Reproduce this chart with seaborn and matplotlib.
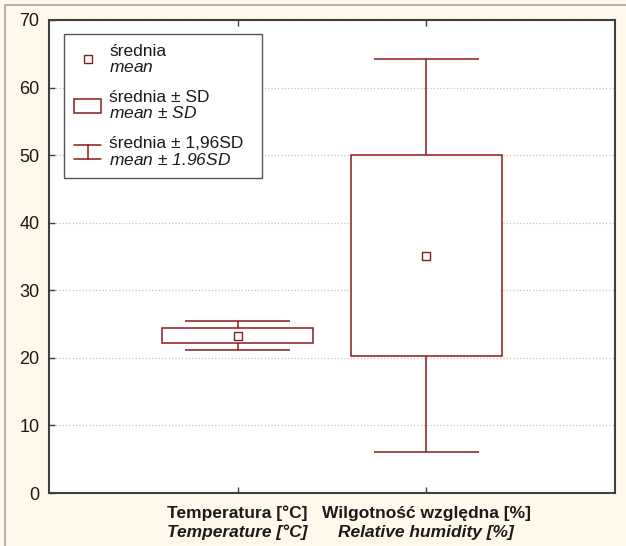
import numpy as np
import pandas as pd
import matplotlib
matplotlib.use("Agg")
import matplotlib.pyplot as plt
import seaborn as sns
from matplotlib.patches import Rectangle
from matplotlib.lines import Line2D
from matplotlib.legend_handler import HandlerBase
from matplotlib.transforms import blended_transform_factory

# Dane
zmienne_pl = ["Temperatura [°C]", "Wilgotność względna [%]"]
zmienne_en = ["Temperature [°C]", "Relative humidity [%]"]
srednie = [23.3, 35.1]
odch_std = [1.1, 14.85]
y_ticks = [0, 10, 20, 30, 40, 50, 60, 70]

KOLOR = "#8b1a1a"
TLO = "#fff8eb"
OS = "#404040"

sns.set_theme(style="ticks")
plt.rcParams["font.family"] = ["Liberation Sans", "DejaVu Sans"]
# w mathtext tylko kursywa (cyfry tez maja byc pochyle)
plt.rcParams["mathtext.fontset"] = "custom"
plt.rcParams["mathtext.rm"] = "Liberation Sans:italic"
plt.rcParams["mathtext.it"] = "Liberation Sans:italic"

df = pd.DataFrame({"x": np.arange(1, len(srednie) + 1), "srednia": srednie, "sd": odch_std})
df["lo196"] = df["srednia"] - 1.96 * df["sd"]
df["hi196"] = df["srednia"] + 1.96 * df["sd"]

fig = plt.figure(figsize=(6.26, 5.46), dpi=100, facecolor=TLO)
ax = fig.add_axes([49 / 626, 1 - 493 / 546, 566 / 626, 473 / 546])
ax.set_facecolor("white")

# ramka rysunku (lewa i gorna krawedz)
fig.add_artist(Rectangle((5 / 626, -1), 2, 1 - 5 / 546 + 1, transform=fig.transFigure,
                         facecolor="none", edgecolor="#a8a8a8", linewidth=1.2))

# wąsy: srednia +- 1.96 SD
ax.vlines(df["x"], df["lo196"], df["hi196"], color=KOLOR, linewidth=1.1, zorder=2)
ax.hlines(df["lo196"], df["x"] - 0.28, df["x"] + 0.28, color=KOLOR, linewidth=1.1, zorder=2)
ax.hlines(df["hi196"], df["x"] - 0.28, df["x"] + 0.28, color=KOLOR, linewidth=1.1, zorder=2)

# pudełka: srednia +- SD
ax.bar(df["x"], 2 * df["sd"], bottom=df["srednia"] - df["sd"], width=0.8,
       facecolor="white", edgecolor=KOLOR, linewidth=1.1, zorder=3)

# srednie
sns.scatterplot(data=df, x="x", y="srednia", marker="s", s=30, facecolor="white",
                edgecolor=KOLOR, linewidth=1.0, zorder=4, ax=ax, legend=False)

ax.set_xlim(0, 3)
ax.set_ylim(0, 70)
ax.set_yticks(y_ticks)
ax.set_xticks(df["x"])
ax.set_xticklabels(["" for _ in df["x"]])
ax.set_xlabel("")
ax.set_ylabel("")
ax.grid(axis="y", linestyle=":", color="#c4c4c4", linewidth=0.9)
ax.set_axisbelow(True)
for s in ax.spines.values():
    s.set_color(OS)
    s.set_linewidth(1.5)
ax.tick_params(direction="in", length=4, width=1, color=OS, labelcolor="#1a1a1a",
               labelsize=13, top=True, pad=7)

tr = blended_transform_factory(ax.transData, ax.transAxes)
for x, pl, en in zip(df["x"], zmienne_pl, zmienne_en):
    ax.text(x, -0.053, pl, transform=tr, ha="center", va="baseline",
            fontsize=12.5, fontweight="bold", color="#1a1a1a")
    ax.text(x, -0.093, en, transform=tr, ha="center", va="baseline",
            fontsize=12.5, fontweight="bold", fontstyle="italic", color="#1a1a1a")


# legenda
class Wasy:
    pass


class HandlerWasy(HandlerBase):
    def create_artists(self, legend, orig_handle, xdescent, ydescent, width, height, fontsize, trans):
        x0, x1 = -xdescent, -xdescent + width
        xm = (x0 + x1) / 2
        y0, y1 = -ydescent, -ydescent + height
        linie = [Line2D([x0, x1], [y1, y1]), Line2D([xm, xm], [y0, y1]), Line2D([x0, x1], [y0, y0])]
        for ln in linie:
            ln.set_color(KOLOR)
            ln.set_linewidth(1.1)
            ln.set_transform(trans)
        return linie


uchwyty = [
    Line2D([], [], marker="s", linestyle="none", markerfacecolor="white",
           markeredgecolor=KOLOR, markersize=5.5, markeredgewidth=1.0),
    Rectangle((0, 0), 1, 1, facecolor="white", edgecolor=KOLOR, linewidth=1.1),
    Wasy(),
]
etykiety = [
    "średnia\n$mean$",
    "średnia ± SD\n$mean$ ± $SD$",
    "średnia ± 1,96SD\n$mean$ ± $1.96SD$",
]
leg_h = 144 / 473
leg = ax.legend(uchwyty, etykiety, handler_map={Wasy: HandlerWasy()},
                loc="upper left", mode="expand",
                bbox_to_anchor=(15 / 566, 1 - 14 / 473 - leg_h, 198 / 566, leg_h),
                borderaxespad=0,
                fontsize=12.5, handlelength=1.55, handleheight=0.86, handletextpad=0.45,
                labelspacing=0.85, borderpad=0.6, fancybox=False, framealpha=1,
                edgecolor="#555555")
leg.get_frame().set_linewidth(1.0)
for t in leg.get_texts():
    t.set_linespacing(1.05)
    t.set_color("#1a1a1a")

fig.savefig("out.png", dpi=100, facecolor=TLO)
